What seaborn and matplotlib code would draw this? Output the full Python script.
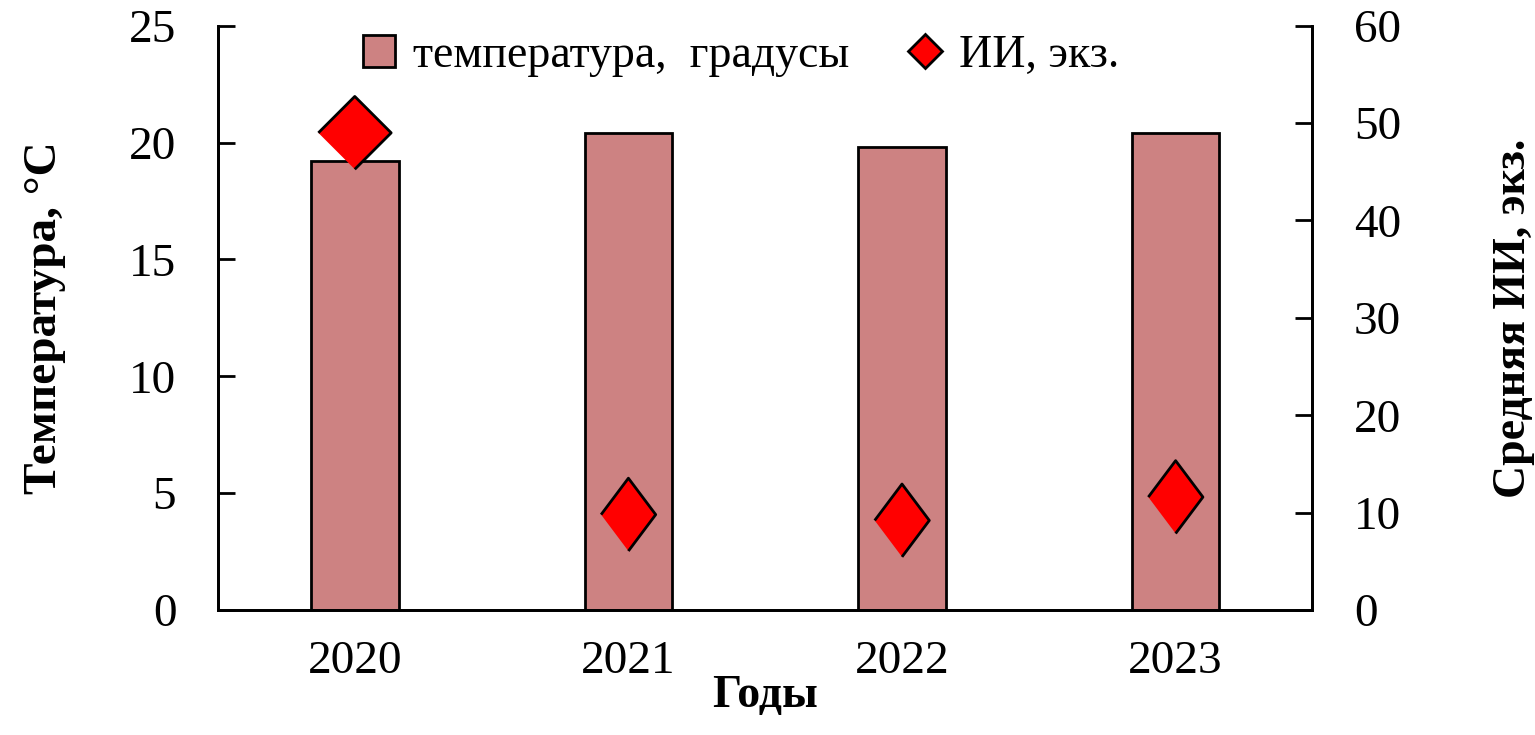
import pandas as pd
import matplotlib.pyplot as plt
import seaborn as sns
from matplotlib.patches import Patch
from matplotlib.lines import Line2D

# Data
years = ["2020", "2021", "2022", "2023"]
temperature = [19.2, 20.4, 19.8, 20.4]   # left axis, °C
ii_count = [49.0, 9.8, 9.2, 11.6]        # right axis, экз.

df = pd.DataFrame({"Годы": years, "temp": temperature, "ii": ii_count})

sns.set_style("white")
plt.rcParams['font.family'] = ['Liberation Serif', 'DejaVu Serif']
plt.rcParams['text.color'] = 'black'
plt.rcParams['axes.labelcolor'] = 'black'
plt.rcParams['xtick.color'] = 'black'
plt.rcParams['ytick.color'] = 'black'

bar_color = "#CD8282"
diamond = [(-1, 0), (0, 1), (1, 0), (0, -1)]
narrow = [(-0.75, 0), (0, 1), (0.75, 0), (0, -1)]

fig = plt.figure(figsize=(15.35, 7.35), dpi=100)
ax = fig.add_axes([0.142, 0.170, 0.713, 0.795])

sns.barplot(data=df, x="Годы", y="temp", color=bar_color, width=0.32,
            edgecolor="black", linewidth=2, saturation=1, ax=ax)
ax.set_ylim(0, 25)
ax.set_yticks(range(0, 26, 5))
ax.set_xlim(-0.5, 3.5)

ax2 = ax.twinx()
sns.scatterplot(data=df, x="Годы", y="ii", style="Годы",
                markers={y: (diamond if i == 0 else narrow) for i, y in enumerate(years)},
                color="#FF0000", edgecolor="black", linewidth=2, s=2750,
                legend=False, ax=ax2, zorder=5)
ax2.set_ylim(0, 60)
ax2.set_yticks(range(0, 61, 10))

for a in (ax, ax2):
    for s in a.spines.values():
        s.set_linewidth(2)
        s.set_color("black")
    a.spines["top"].set_visible(False)

ax.tick_params(axis="y", direction="in", length=12, width=2, labelsize=34, pad=30)
ax.tick_params(axis="x", length=0, labelsize=34, pad=22)
ax2.tick_params(axis="y", direction="in", length=12, width=2, labelsize=34, pad=30)

ax.set_xlabel("Годы", fontsize=33, fontweight="bold", labelpad=-6)
ax.set_ylabel("Температура, °С", fontsize=34, fontweight="bold", labelpad=45)
ax2.set_ylabel("Средняя ИИ, экз.", fontsize=33, fontweight="bold", labelpad=66)

handles = [
    Patch(facecolor=bar_color, edgecolor="black", linewidth=2),
    Line2D([], [], marker="D", linestyle="none", markerfacecolor="#FF0000",
           markeredgecolor="black", markeredgewidth=2, markersize=17),
]
ax.legend(handles, ["температура,  градусы", "ИИ, экз."], loc="upper center",
          bbox_to_anchor=(0.478, 1.055), ncol=2, frameon=False, fontsize=33,
          handlelength=0.7, handleheight=0.7, handletextpad=0.4, columnspacing=1.3)

fig.savefig("out.png", dpi=100)
